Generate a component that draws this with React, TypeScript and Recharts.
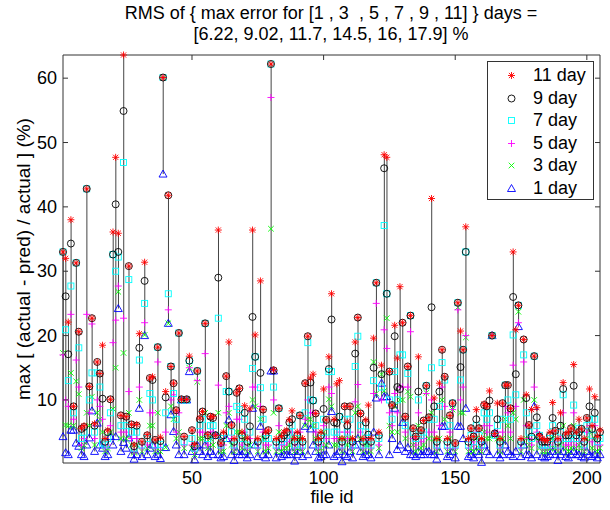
import React from "react";
import { ComposedChart, Scatter, Bar, XAxis, YAxis, ReferenceArea } from "recharts";

// file ids 1..205
const fileIds = Array.from({ length: 205 }, (_, i) => i + 1);

const day11 = [
  33, 32, 22.1, 38, 9, 31.3, 20.6, 5.6, 6, 42.8,
  12.1, 22.7, 6.3, 15.9, 14.1, 18.5, 4, 5.3, 10.1, 36.1,
  47.7, 35.9, 7.6, 63.6, 7.4, 30.8, 6.2, 3, 6.2, 20.3,
  3.5, 31.4, 4.6, 13.4, 13.6, 3.8, 18.2, 4.2, 60.1, 11.3,
  41.8, 15.2, 12.6, 8.4, 20.4, 10.1, 4.3, 10.1, 16.8, 5.3,
  3.1, 14.5, 7.2, 8.2, 21.9, 4.6, 7.4, 7.4, 4.5, 36.4,
  3.3, 5, 13.7, 19, 6.1, 4, 11.1, 11.8, 5, 9.1,
  4.1, 8.6, 36.4, 20.1, 4, 28.5, 8.5, 5, 5.3, 62.2,
  14.7, 4, 8.7, 4.3, 5, 5.3, 6.9, 8.3, 4, 5,
  7.6, 4, 12.6, 19.9, 13.4, 14, 7.9, 4, 5, 11.7,
  6.9, 16.7, 26.5, 7, 12.5, 13, 4, 9, 6.6, 9,
  4, 19, 22.8, 7.9, 4, 6.9, 9.2, 4, 19.6, 28.2,
  5, 15.4, 48.1, 47.7, 14.4, 9.2, 21.6, 16.5, 27.6, 22,
  7.4, 15.2, 23.1, 5.6, 4.3, 16.7, 5.3, 6.8, 12.2, 7.3,
  41.3, 10.3, 4, 12.6, 17.8, 13.6, 4, 7.6, 9.5, 3.3,
  25.1, 20.7, 17.8, 36.9, 4, 5.6, 4.3, 8.5, 5.6, 4,
  9.4, 9, 11.4, 20, 4.8, 9.5, 4, 9.5, 12.3, 12.3,
  8.7, 33, 20.9, 24.7, 4, 19.4, 10.8, 6.1, 8.5, 16.8,
  8.8, 4.5, 4, 3.7, 3.7, 5, 9.6, 5.2, 4, 8,
  12.7, 4.7, 5, 5.6, 15.5, 5, 7, 5.5, 4, 7.2,
  11.7, 6, 10.5, 4.3, 5.3,
];

const day9 = [
  33, 26.1, 17.1, 34.3, 9, 31.3, 20.6, 5.5, 5.8, 42.8,
  12.1, 22.7, 6, 15.9, 14.1, 10.2, 3.5, 5, 10.1, 32.6,
  40.4, 33, 7.6, 54.9, 7.4, 30.8, 6.2, 2.8, 6, 18.1,
  3.5, 28.5, 4.5, 13.4, 13.1, 3.8, 18.2, 3.6, 60.1, 10.4,
  41.8, 15.2, 12.6, 8.4, 20.4, 10.1, 4.3, 10.1, 16.1, 5.3,
  2.8, 14.5, 7, 8.2, 21.9, 4.5, 7.4, 7.2, 4.5, 29,
  3.3, 4.5, 13.7, 11.3, 6.1, 3.5, 11.1, 11.8, 4.5, 8,
  3.5, 5.9, 22.9, 16.7, 3.5, 14.2, 8.5, 4.5, 5.3, 62.2,
  14.6, 3.5, 8.7, 4, 4.5, 5, 6.5, 7, 3.5, 4.5,
  7.6, 3.5, 12.6, 19.9, 12.7, 9.9, 7.9, 3.5, 4.5, 8.6,
  6.9, 14.8, 22.5, 6.5, 6.4, 7.4, 3.5, 9, 6, 9,
  3.5, 17.2, 22.8, 7.9, 3.5, 6.5, 4.6, 3.5, 15, 28.2,
  4.5, 14, 46, 26.5, 14.4, 9.2, 19.9, 12, 11.7, 22,
  7.4, 15.2, 23.1, 5.6, 4.3, 11.3, 5.3, 6.8, 12.2, 7.3,
  24.4, 9, 3.5, 11.3, 17.8, 13.6, 3.5, 7.6, 9.5, 3.3,
  25.1, 15.1, 17.8, 33, 3.5, 5.6, 4.3, 7, 5.6, 3.5,
  9.2, 9, 9.9, 20, 4.8, 7, 3.5, 9.5, 12.3, 12.3,
  8.7, 26, 14, 24.7, 3.5, 19.4, 10.3, 6.1, 4.3, 16.8,
  7.3, 4.3, 3.5, 3.5, 3.5, 4.5, 7.2, 5.2, 3.5, 6,
  11.7, 4.5, 4.5, 5.6, 12.2, 4.5, 5, 5.5, 3.5, 7.2,
  9, 5.5, 8, 4, 5,
];

const day7 = [
  33, 20.9, 13, 27.7, 8, 31.3, 18.1, 4, 5, 42.8,
  10, 14.2, 5, 14.2, 12, 3.3, 3, 4, 8, 32.6,
  30, 32.2, 6, 46.9, 6, 28.7, 5, 2.5, 5, 16.2,
  3, 25, 4, 11, 10, 3, 18.2, 3.1, 60.1, 8,
  26.5, 15.2, 11, 7, 20.4, 10, 3.5, 10, 16.1, 4,
  2.5, 14.5, 6, 7, 21.9, 4, 6, 6, 4.5, 22.7,
  3, 4, 11.3, 11.3, 5, 3, 9, 8.5, 4, 7,
  3, 5, 14.9, 16.7, 3, 11.9, 7, 4, 4, 62.2,
  12, 3, 8.7, 3.5, 4, 4.5, 5, 6, 3, 4,
  7.6, 3, 8, 18.9, 10, 9.9, 6, 3, 4, 7,
  5, 14.4, 14.4, 5, 5, 7.4, 3, 7, 5, 7,
  3, 15.2, 19.9, 6, 3, 5, 4, 3, 13, 28.2,
  4, 12, 37.1, 26.5, 10, 7, 14.4, 10, 17, 17,
  6, 14.1, 23.1, 5, 4, 10, 4.5, 5, 12.2, 7,
  15, 7, 3, 9, 15.8, 13.1, 3, 6, 9.5, 3,
  25.1, 13.1, 17.8, 33, 3, 4.5, 3.5, 6, 4.5, 3,
  8, 7, 8, 20, 4.5, 6, 3, 7, 12.3, 10,
  7, 20.1, 10.8, 24.7, 3, 17, 8, 5, 4, 16.8,
  6, 4.5, 3, 3, 3, 4, 6, 4.5, 3, 5,
  10.8, 4, 4, 4.5, 9.2, 4, 5.6, 4.5, 3, 6,
  7, 4.5, 7, 3.5, 4,
];

const day5 = [
  17, 10, 9, 23.3, 7, 16.2, 12, 3, 4, 23.3,
  8, 21.8, 4, 10, 9, 7, 2.5, 3, 6, 18.9,
  22.4, 27.7, 5, 22.7, 5, 11.3, 4, 2, 4, 12,
  2.5, 22, 3, 8, 8, 2.5, 15.9, 2.6, 60.1, 5,
  24, 10, 10.8, 5, 8, 10, 3, 10, 15, 3,
  2, 13, 5, 5, 17.2, 3, 5, 5, 4.5, 12.3,
  2.5, 3, 8, 9, 4, 2.5, 7, 7, 3, 5,
  2.5, 4, 12, 12, 2.5, 9, 5, 3, 3, 57,
  10, 2.5, 6, 3, 3, 3.5, 4, 5, 2.5, 3,
  5, 2.5, 7, 10, 8, 8, 5, 2.5, 3, 6,
  4, 12, 11, 4, 4, 5, 2.5, 5, 4, 5,
  2.5, 9.7, 12.4, 5, 2.5, 4, 3.5, 2.5, 11, 25,
  3, 10, 20.9, 18, 8, 6, 11, 8, 12, 12,
  5, 12, 20.6, 4, 3, 8, 3.5, 4, 11, 5,
  10, 5, 2.5, 6, 12, 9, 2.5, 5, 8.5, 2.5,
  24, 10, 12, 20, 2.5, 3.5, 3, 5, 3.5, 2.5,
  6, 5, 6, 20, 4.5, 5, 2.5, 5, 9, 8,
  5, 15.4, 9, 22, 2.5, 15.9, 6, 4, 3, 12,
  5, 3.5, 2.5, 2.5, 2.5, 3, 5, 3.5, 2.5, 4,
  8, 3, 3, 3.5, 8, 3, 4, 3.5, 2.5, 5,
  6, 3.5, 6, 3, 3,
];

const day3 = [
  17.3, 6.1, 6, 14.2, 6, 12.9, 10.9, 2.5, 3, 8,
  6, 10.5, 3, 8, 7, 5, 2, 2.5, 5, 8.6,
  15, 26.8, 4, 17.3, 4, 8, 3, 1.8, 3, 10,
  2, 20.1, 2.5, 6, 6, 2, 8, 2, 60.1, 2.6,
  21.9, 9, 7, 4, 5, 10, 2.5, 10, 15, 2.5,
  1.5, 12.8, 4, 4, 8, 2.5, 4, 3, 4.5, 8,
  2, 2, 6, 8, 3, 2, 5, 5, 2.5, 4,
  2, 3, 10, 9, 2, 7, 4, 2, 2.5, 36.6,
  8, 2, 5, 2, 2.5, 2.5, 3, 4, 2, 2.5,
  4, 2, 6, 7, 7, 6, 4, 2, 2.5, 5,
  3, 10.1, 9, 3, 3, 4, 2, 4, 3, 4,
  2, 8, 9, 4, 2, 3, 3, 2, 15.9, 11,
  2.5, 14, 11.4, 22.7, 6, 5, 9, 5, 10, 10,
  4, 11.3, 10.5, 3, 2, 6, 2.5, 3, 11.1, 4,
  8, 4, 2, 4, 10, 7, 2, 4, 8.5, 2,
  24.4, 8, 8, 19.7, 2, 2.5, 2, 4, 2.5, 2,
  5, 4, 4, 20, 4.5, 4, 2, 4, 7, 6,
  4, 8, 7, 23.7, 2, 10, 4, 3, 2.5, 10,
  4, 2.5, 2, 2, 2, 2.5, 4, 2.5, 2, 3,
  6, 2.5, 2, 2.5, 6, 2.5, 3, 2.5, 2, 4,
  5, 2.5, 4, 2, 2.5,
];

const day1 = [
  4.3, 1.8, 1.5, 5.3, 5.3, 3.3, 2.8, 1.5, 1.2, 3,
  4.1, 8.3, 2, 6.4, 3, 2.5, 1.2, 1.5, 4.3, 3,
  4.3, 24.2, 2, 3.4, 2.5, 4.1, 1.5, 0.8, 1.5, 8.7,
  1.2, 20, 1.5, 2.5, 3, 1.2, 1.5, 0.9, 45.1, 2.6,
  21.9, 7.7, 5.1, 3, 1.5, 10, 1.5, 10, 14.4, 2,
  0.7, 3, 2, 1.5, 3, 1.2, 2, 1.5, 4.5, 1.5,
  1, 1.2, 4, 6.9, 1.5, 0.6, 2, 1.5, 1.5, 2,
  1, 1.5, 8.7, 3, 1.2, 5.9, 1.5, 1, 1.5, 14.5,
  14.5, 1, 2, 1.2, 1.5, 1.5, 1.5, 2, 0.5, 1.5,
  2, 1.2, 5.9, 1.5, 5.5, 3, 2, 1, 1.2, 1.5,
  1.5, 3, 8.2, 1.2, 1.5, 2, 0.4, 1.5, 1.2, 2,
  1, 3, 4, 2, 1.2, 1.5, 1.5, 1, 5, 10.3,
  1.5, 12.6, 10.5, 10.5, 1.5, 4, 8.7, 2.3, 3, 6.5,
  2, 2.6, 1.5, 1.5, 1.2, 2, 1.5, 1.5, 2, 2,
  1.5, 1.5, 0.8, 2, 5.9, 5.9, 1.2, 1.5, 2, 1,
  5.9, 5.9, 4, 8.7, 1.2, 1.5, 1, 2, 1.5, 0.3,
  3, 2, 1.5, 20, 4.8, 1.5, 1, 1.5, 3, 2,
  1.5, 1.2, 2, 21.4, 1.2, 3, 1.5, 1.5, 1, 9,
  1.5, 4.5, 1.2, 1, 1.2, 1.5, 2, 1.5, 0.6, 1.5,
  2, 1.2, 1, 1.5, 2, 1.5, 1.5, 1.2, 1, 2,
  1.5, 1.2, 1.5, 1, 1.5,
];

const xTicks = [50, 100, 150, 200];
const yTicks = [10, 20, 30, 40, 50, 60];
const rmsValues = ["6.22", "9.02", "11.7", "14.5", "16", "17.9"];

const FONT = '"Liberation Sans", Arial, Helvetica, sans-serif';
// plot box in page pixels
const PL = 63, PR = 600, PT = 55, PB = 463;
const Y_MIN = 0.2, Y_MAX = 63.6;

const rows = fileIds.map((id, i) => {
  const vals = [day11[i], day9[i], day7[i], day5[i], day3[i], day1[i]];
  return {
    id,
    d11: day11[i], d9: day9[i], d7: day7[i], d5: day5[i], d3: day3[i], d1: day1[i],
    span: [Math.min(...vals), Math.max(...vals)],
  };
});

// marker glyphs (matlab style: * o s + x ^)
const StarMark = ({ cx, cy }: any) => (
  <path
    d={`M${cx - 3.5},${cy}H${cx + 3.5}M${cx},${cy - 3.5}V${cy + 3.5}M${cx - 2.6},${cy - 2.6}L${cx + 2.6},${cy + 2.6}M${cx - 2.6},${cy + 2.6}L${cx + 2.6},${cy - 2.6}`}
    stroke="#ff0000" strokeWidth={0.9} fill="none"
  />
);
const CircleMark = ({ cx, cy }: any) => <circle cx={cx} cy={cy} r={3.5} stroke="#000" strokeWidth={0.9} fill="none" />;
const SquareMark = ({ cx, cy }: any) => <rect x={cx - 3} y={cy - 3} width={6} height={6} stroke="#00ffff" strokeWidth={0.9} fill="none" />;
const PlusMark = ({ cx, cy }: any) => (
  <path d={`M${cx - 3.5},${cy}H${cx + 3.5}M${cx},${cy - 3.5}V${cy + 3.5}`} stroke="#ff00ff" strokeWidth={0.9} fill="none" />
);
const CrossMark = ({ cx, cy }: any) => (
  <path d={`M${cx - 2.8},${cy - 2.8}L${cx + 2.8},${cy + 2.8}M${cx - 2.8},${cy + 2.8}L${cx + 2.8},${cy - 2.8}`} stroke="#00ff00" strokeWidth={0.9} fill="none" />
);
const TriMark = ({ cx, cy }: any) => (
  <path d={`M${cx},${cy - 4}L${cx - 4},${cy + 3}L${cx + 4},${cy + 3}Z`} stroke="#0000ff" strokeWidth={0.9} fill="none" />
);

const legendItems = [
  { label: "11 day", Mark: StarMark },
  { label: "9 day", Mark: CircleMark },
  { label: "7 day", Mark: SquareMark },
  { label: "5 day", Mark: PlusMark },
  { label: "3 day", Mark: CrossMark },
  { label: "1 day", Mark: TriMark },
];

const Stem = (p: any) => {
  if (p.height == null || p.y == null) return null;
  const x = p.x + p.width / 2;
  return <line x1={x} x2={x} y1={p.y} y2={p.y + p.height} stroke="#444" strokeWidth={1} />;
};

const XTick = ({ x, payload }: any) => (
  <g>
    <line x1={x} x2={x} y1={PB} y2={PB - 5} stroke="#333" />
    <line x1={x} x2={x} y1={PT} y2={PT + 5} stroke="#333" />
    <text x={x} y={PB + 21} textAnchor="middle" fontSize={18} fontFamily={FONT} fill="#000">{payload.value}</text>
  </g>
);

const YTick = ({ y, payload }: any) => (
  <g>
    <line x1={PL} x2={PL + 5} y1={y} y2={y} stroke="#333" />
    <line x1={PR - 5} x2={PR} y1={y} y2={y} stroke="#333" />
    <text x={PL - 6} y={y + 6} textAnchor="end" fontSize={18} fontFamily={FONT} fill="#000">{payload.value}</text>
  </g>
);

export default function App() {
  return (
    <div style={{ position: "absolute", left: 0, top: 0, width: 610, height: 510, background: "#fff", fontFamily: FONT, color: "#000" }}>
      <div style={{ position: "absolute", left: 31, width: 600, top: 3, textAlign: "center", fontSize: 18, lineHeight: "21px", whiteSpace: "pre" }}>
        {"RMS of { max error for [1 , 3  , 5 , 7 , 9 , 11] } days =\n[" + rmsValues.join(", ") + "] %"}
      </div>
      <ComposedChart width={610} height={510} data={rows} margin={{ top: PT, right: 610 - PR, bottom: 17, left: 23 }}>
        <XAxis type="number" dataKey="id" domain={[1, 205]} ticks={xTicks} height={30} axisLine={false} tickLine={false} tick={(p: any) => <XTick {...p} />} />
        <YAxis type="number" domain={[Y_MIN, Y_MAX]} ticks={yTicks} width={40} axisLine={false} tickLine={false} tick={(p: any) => <YTick {...p} />} />
        <ReferenceArea x1={1} x2={205} y1={Y_MIN} y2={Y_MAX} fill="none" fillOpacity={0} stroke="#333" strokeWidth={1} ifOverflow="visible" />
        <Bar dataKey="span" barSize={1} shape={Stem} isAnimationActive={false} />
        <Scatter dataKey="d1" shape={TriMark} isAnimationActive={false} />
        <Scatter dataKey="d3" shape={CrossMark} isAnimationActive={false} />
        <Scatter dataKey="d5" shape={PlusMark} isAnimationActive={false} />
        <Scatter dataKey="d7" shape={SquareMark} isAnimationActive={false} />
        <Scatter dataKey="d9" shape={CircleMark} isAnimationActive={false} />
        <Scatter dataKey="d11" shape={StarMark} isAnimationActive={false} />
      </ComposedChart>
      <div style={{ position: "absolute", left: 182, width: 300, top: 486, textAlign: "center", fontSize: 18.5, lineHeight: "22px" }}>file id</div>
      <div style={{ position: "absolute", left: 24 - 200, top: 259 - 11, width: 400, height: 22, textAlign: "center", fontSize: 19, lineHeight: "22px", transform: "rotate(-90deg)", whiteSpace: "nowrap" }}>
        max [ (actual - pred) / actual ] (%)
      </div>
      <div style={{ position: "absolute", left: 487, top: 61, width: 105, height: 137, border: "1px solid #333", background: "#fff" }}>
        {legendItems.map((it, i) => (
          <div key={it.label} style={{ position: "absolute", left: 0, top: 2 + i * 22.5, height: 22, width: 105 }}>
            <svg width={30} height={22} style={{ position: "absolute", left: 8, top: 0 }}>
              <it.Mark cx={15.5} cy={11.5} />
            </svg>
            <span style={{ position: "absolute", left: 45, top: 0, fontSize: 18, lineHeight: "22px" }}>{it.label}</span>
          </div>
        ))}
      </div>
    </div>
  );
}
